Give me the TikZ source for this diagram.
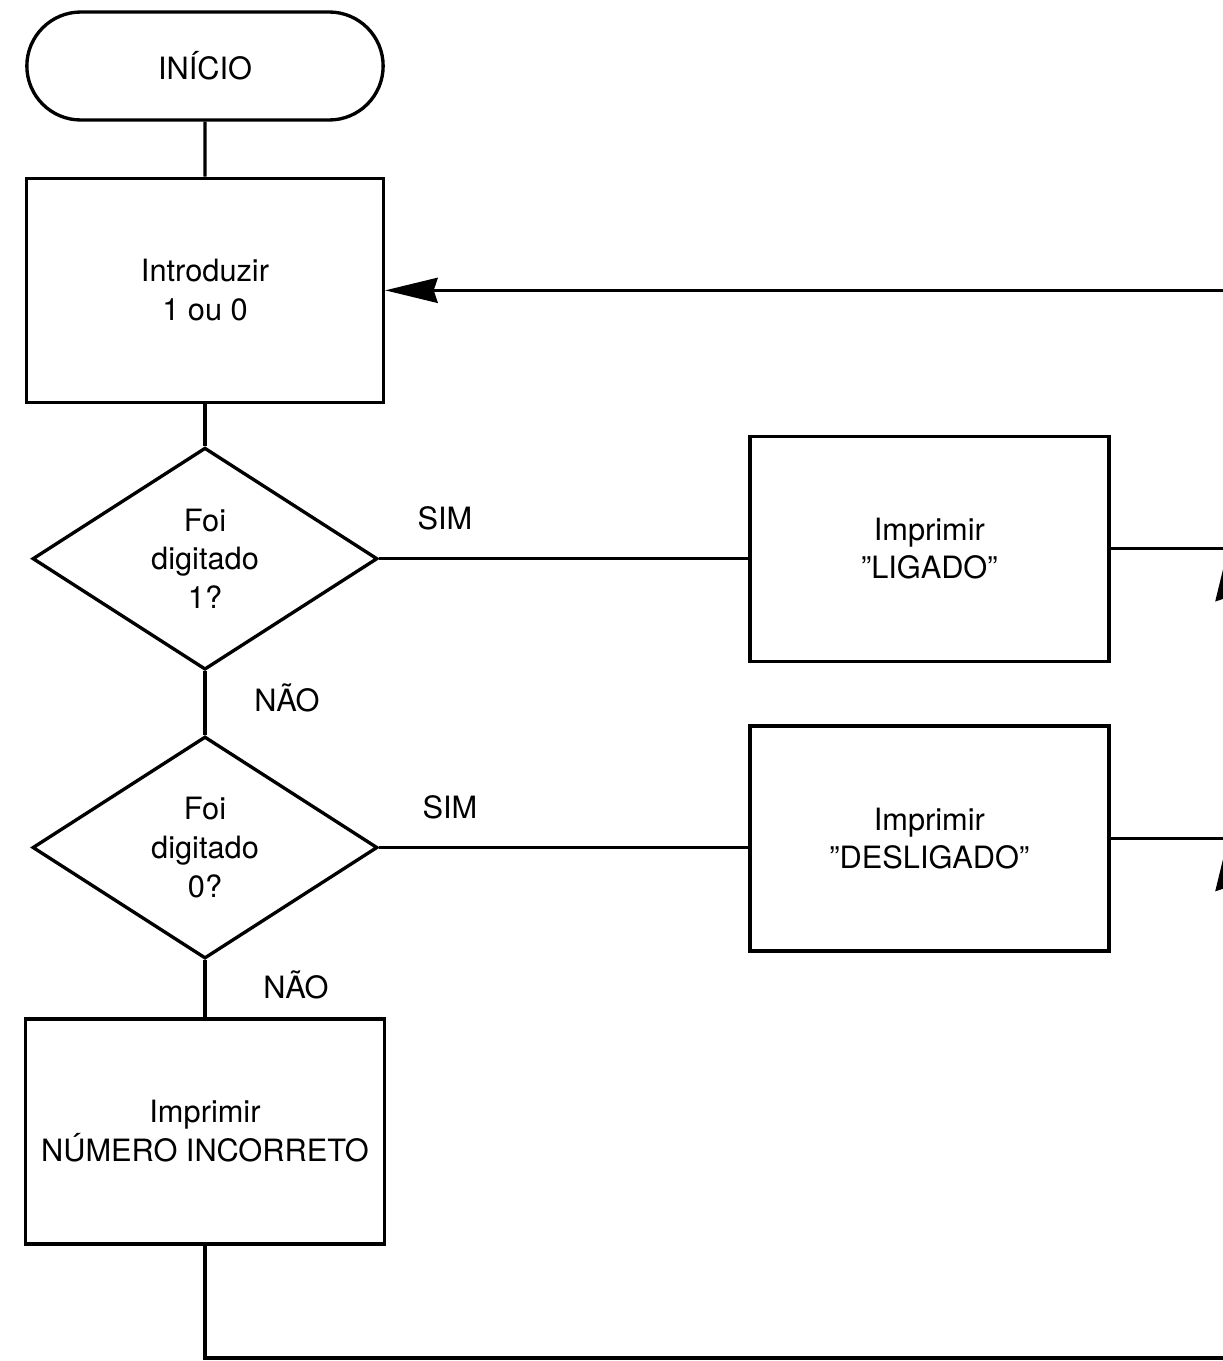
\documentclass[tikz,border=0pt]{standalone}
\usepackage{fontspec}
\setmainfont{TeX Gyre Heros}
\usetikzlibrary{shapes.geometric,shapes.misc,arrows.meta,positioning}

\begin{document}
\begin{tikzpicture}[
    node distance=1cm and 7.38cm,
    font=\fontsize{17.5}{22}\selectfont,
    term/.style={rounded rectangle, draw, line width=1.9pt, minimum width=7.36cm, minimum height=2.16cm},
    proc/.style={rectangle, draw, line width=1.9pt, align=center, minimum width=7.14cm, minimum height=4.48cm},
    test/.style={diamond, draw, line width=1.9pt, align=center, aspect=1.55, inner sep=0pt, minimum width=6.9cm, minimum height=4.44cm},
    lbl/.style={inner sep=0pt},
    flow/.style={line width=1.9pt},
    arrow/.style={flow, -{Stealth[length=1.05cm, width=0.5cm, inset=0.08cm]}}
]
    \useasboundingbox (0,0) rectangle (24.46,-27.22);
    \clip (0,0) rectangle (24.46,-27.22);

    % main column
    \node [term] (start) at (4.1,-1.32) {INÍCIO};
    \node [proc, below=1.1cm of start] (in) {Introduzir\\1 ou 0};
    \node [test, below=0.84cm of in] (d1) {Foi\\digitado\\1?};
    \node [test, below=1.27cm of d1] (d2) {Foi\\digitado\\0?};
    \node [proc, below=1.14cm of d2, minimum width=7.18cm, minimum height=4.5cm] (out) {Imprimir\\NÚMERO INCORRETO};

    % right column
    \node [proc, right=of d1, yshift=0.2cm, minimum width=7.18cm, minimum height=4.5cm] (lig) {Imprimir\\''LIGADO''};
    \node [proc, right=of d2, yshift=0.18cm, minimum width=7.18cm, minimum height=4.5cm] (des) {Imprimir\\''DESLIGADO''};

    % branch labels
    \node [lbl, above right=0.56cm and 0.76cm of d1.east] (s1) {SIM};
    \node [lbl, below right=0.24cm and 0.98cm of d1.south] (n1) {NÃO};
    \node [lbl, above right=0.56cm and 0.86cm of d2.east] (s2) {SIM};
    \node [lbl, below right=0.2cm and 1.16cm of d2.south] (n2) {NÃO};

    % return line at the right edge
    \coordinate (rx) at (24.56,0);
    \coordinate (bot) at (0,-27.16);
    \coordinate (rt) at (in.east -| rx);
    \coordinate (j1) at (lig.east -| rx);
    \coordinate (j2) at (des.east -| rx);
    \coordinate (rb) at (rx |- bot);
    \coordinate (ob) at (out.south |- bot);

    \draw [flow] (start) -- (in);
    \draw [flow] (in) -- (d1);
    \draw [flow] (d1) -- (d2);
    \draw [flow] (d2) -- (out);
    \draw [flow] (d1.east) -- (d1.east -| lig.west);
    \draw [flow] (d2.east) -- (d2.east -| des.west);
    \draw [flow] (lig.east) -- (j1);
    \draw [flow] (des.east) -- (j2);
    \draw [flow] (out.south) -- (ob) -- (rb);
    \draw [arrow] (rb) -- (j2);
    \draw [arrow] (j2) -- (j1);
    \draw [arrow] (j1) -- (rt) -- (in.east);
\end{tikzpicture}
\end{document}
